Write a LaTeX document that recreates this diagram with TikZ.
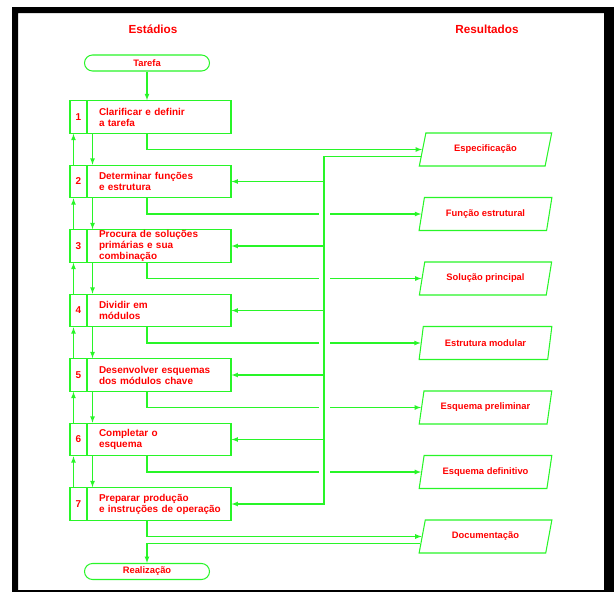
\documentclass[tikz,border=0pt]{standalone}
\usepackage{fontspec}
\setmainfont{Liberation Sans}
\usetikzlibrary{shapes.geometric,calc}
\definecolor{cadgreen}{RGB}{40,245,40}
\definecolor{cadred}{RGB}{255,0,0}
\tikzset{
	line/.style={draw=cadgreen,line width=0.9pt},
	arr/.style={line,-latex},
	numbox/.style={line,minimum width=5.1mm,minimum height=9.75mm,inner sep=0pt,text=cadred,font=\fontsize{8.5}{9}\selectfont\bfseries},
	stagebox/.style={line,minimum width=43.2mm,minimum height=9.75mm,text width=36mm,inner xsep=3.6mm,inner ysep=0.3mm,align=left,text=cadred,font=\fontsize{8.5}{9.4}\selectfont\bfseries},
	resbox/.style={line,trapezium,trapezium left angle=68.5,trapezium right angle=111.5,trapezium stretches=true,minimum width=39.9mm,minimum height=9.9mm,inner sep=0pt,text=cadred,font=\fontsize{8}{9}\selectfont\bfseries},
	term/.style={line,rounded corners=2.4mm,minimum width=37.5mm,minimum height=4.8mm,inner sep=0pt,text=cadred,font=\fontsize{8}{9}\selectfont\bfseries},
	head/.style={text=cadred,font=\fontsize{10}{12}\selectfont\bfseries}
}
\begin{document}
\begin{tikzpicture}[x=0.3mm,y=-0.3mm]
		\useasboundingbox (0,0) rectangle (614,592);
		%black frame
		\fill[black,even odd rule] (12,7) rectangle (614,592) (18,13) rectangle (604,590);
		%headings
		\node[head] (hstage) at (153,29) {Estádios};
		\node[head] (hres) at (487,29) {Resultados};
		%start and end
		\node[term] (tarefa) at (147,63) {Tarefa};
		\node[term] (real) at (147,571.5) {Realização};
		%put the stages on the left
		\foreach \txt[count=\i] in {{Clarificar e definir\\a tarefa},{Determinar funções\\e estrutura},{Procura de soluções\\primárias e sua\\combinação},{Dividir em\\módulos},{Desenvolver esquemas\\dos módulos chave},{Completar o\\esquema},{Preparar produção\\\mbox{e instruções de operação}}}{
			\node[numbox] (n\i) at (78.5,{117+64.5*(\i-1)}) {\i};
			\node[stagebox] (s\i) at (159,{117+64.5*(\i-1)}) {\txt};
		}
		%put the results on the right
		\foreach \res[count=\i] in {Especificação,Função estrutural,Solução principal,Estrutura modular,Esquema preliminar,Esquema definitivo,Documentação}{
			\node[resbox] (r\i) at (485.5,{149.5+64.5*(\i-1)}) {\res};
		}
		\coordinate (bus) at (324,156);
		\draw[arr] (tarefa.south) -- (tarefa.south |- s1.north);
		%forward and backward between stages
		\foreach \i[count=\j from 2] in {1,...,6}{
			\draw[arr] ([xshift=1.5mm]n\i.south east) -- ([xshift=1.5mm]n\j.north east);
			\draw[arr] ([xshift=1.2mm]n\j.north west) -- ([xshift=1.2mm]n\i.south west);
		}
		%stage outputs
		\draw[arr] (s1.south -| tarefa) |- (r1.left side);
		\foreach \i in {2,...,6}{
			\draw[line] (s\i.south -| tarefa) |- ([xshift=-1.5mm]bus |- r\i.left side);
			\draw[arr] ([xshift=1.8mm]bus |- r\i.left side) -- (r\i.left side);
		}
		\draw[arr] (s7.south -| tarefa) |- (r7.left side);
		%feedback from the specification
		\draw[arr] ($(r1.bottom left corner)!0.3!(r1.top left corner)$) -| (bus |- s7.east) -- (s7.east);
		\foreach \i in {2,...,6}{
			\draw[arr] (bus |- s\i.east) -- (s\i.east);
		}
		\draw[arr] ($(r7.bottom left corner)!0.3!(r7.top left corner)$) -| (real.north);
\end{tikzpicture}
\end{document}
